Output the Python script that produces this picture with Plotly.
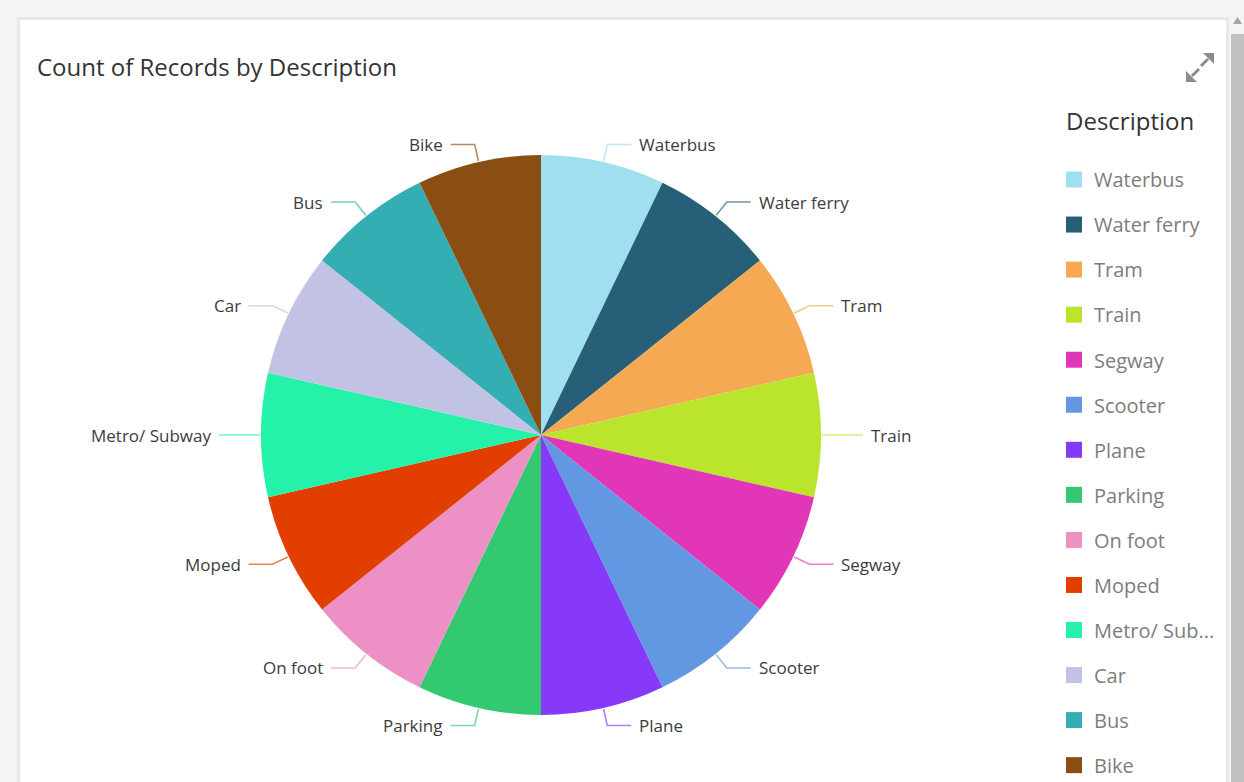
import math
import plotly.graph_objects as go

# ---------------- data ----------------
labels = ["Waterbus", "Water ferry", "Tram", "Train", "Segway", "Scooter", "Plane",
          "Parking", "On foot", "Moped", "Metro/ Subway", "Car", "Bus", "Bike"]
values = [1, 1, 1, 1, 1, 1, 1, 1, 1, 1, 1, 1, 1, 1]
colors = ["#a0dff0", "#285f78", "#f5a952", "#bbe42d", "#e236b9", "#6298e2", "#8639f9",
          "#32c971", "#ed90c6", "#e13e00", "#25f2a9", "#c1c2e4", "#33aeb2", "#8a4e12"]
legend_title = "Description"
chart_title = "Count of Records by Description"

# ---------------- layout constants ----------------
W, H = 1244, 782
CX, CY, R = 541, 435, 280
FONT = "Segoe UI, Open Sans, sans-serif"


def px(x, y):
    return x / W, 1 - y / H


fig = go.Figure()

fig.add_trace(go.Pie(
    labels=labels, values=values, sort=False, direction="clockwise", rotation=0,
    marker=dict(colors=colors, line=dict(width=0)),
    textinfo="none", showlegend=False,
    domain=dict(x=[(CX - R) / W, (CX + R) / W], y=[1 - (CY + R) / H, 1 - (CY - R) / H]),
))

# legend entries (one group per label so the gap can be controlled)
for lbl, col in zip(labels, colors):
    name = lbl if len(lbl) <= 11 else lbl[:10] + "..."
    fig.add_trace(go.Scatter(
        x=[None], y=[None], mode="markers", name=name, legendgroup=lbl,
        marker=dict(symbol="square", size=16, color=col),
    ))

shapes = []
annotations = []

# card background
shapes.append(dict(type="rect", xref="paper", yref="paper", x0=17 / W, x1=1229 / W,
                   y0=-0.01, y1=1 - 17 / H, fillcolor="#e8e8e8", line=dict(width=0), layer="below"))
shapes.append(dict(type="rect", xref="paper", yref="paper", x0=20 / W, x1=1226 / W,
                   y0=-0.01, y1=1 - 20 / H, fillcolor="#ffffff", line=dict(width=0), layer="below"))
# scrollbar
shapes.append(dict(type="rect", xref="paper", yref="paper", x0=1231 / W, x1=1.01,
                   y0=-0.01, y1=1 - 34 / H, fillcolor="#c1c1c1", line=dict(width=0), layer="below"))
ax0, ay0 = px(1233, 24)
ax1, ay1 = px(1242, 24)
ax2, ay2 = px(1237.5, 17)
shapes.append(dict(type="path", xref="paper", yref="paper",
                   path=f"M{ax0},{ay0} L{ax1},{ay1} L{ax2},{ay2} Z",
                   fillcolor="#a3a3a3", line=dict(width=0)))

# expand icon
def tri(p1, p2, p3):
    a, b, c = px(*p1), px(*p2), px(*p3)
    return f"M{a[0]},{a[1]} L{b[0]},{b[1]} L{c[0]},{c[1]} Z"

shapes.append(dict(type="path", xref="paper", yref="paper",
                   path=tri((1214, 53), (1214, 64), (1203, 53)), fillcolor="#8c8c8c", line=dict(width=0)))
shapes.append(dict(type="path", xref="paper", yref="paper",
                   path=tri((1186, 82), (1186, 71), (1197, 82)), fillcolor="#8c8c8c", line=dict(width=0)))
l0, l1 = px(1208, 59), px(1201, 66)
shapes.append(dict(type="line", xref="paper", yref="paper", x0=l0[0], y0=l0[1], x1=l1[0], y1=l1[1],
                   line=dict(color="#8c8c8c", width=3)))
l0, l1 = px(1192, 76), px(1199, 69)
shapes.append(dict(type="line", xref="paper", yref="paper", x0=l0[0], y0=l0[1], x1=l1[0], y1=l1[1],
                   line=dict(color="#8c8c8c", width=3)))

# leader lines and outside labels, derived from the slice angles
total = sum(values)
cum = 0.0
for lbl, val, col in zip(labels, values, colors):
    mid = 2 * math.pi * (cum + val / 2) / total
    cum += val
    s, c = math.sin(mid), math.cos(mid)
    x0p, y0p = CX + 281 * s, CY - 281 * c
    exp_, eyp = CX + 298 * s, CY - 298 * c
    right = s >= 0
    hx = exp_ + (24 if right else -24)
    p0, p1, p2 = px(x0p, y0p), px(exp_, eyp), px(hx, eyp)
    shapes.append(dict(type="path", xref="paper", yref="paper",
                       path=f"M{p0[0]},{p0[1]} L{p1[0]},{p1[1]} L{p2[0]},{p2[1]}",
                       line=dict(color=col, width=1.6), opacity=0.65))
    tx = hx + (6 if right else -6)
    t = px(tx, eyp)
    annotations.append(dict(x=t[0], y=t[1], xref="paper", yref="paper", text=lbl,
                            showarrow=False, xanchor="left" if right else "right", yanchor="middle",
                            font=dict(family=FONT, size=17, color="#3c3c3c")))

# titles
t = px(35, 67)
annotations.append(dict(x=t[0], y=t[1], xref="paper", yref="paper", text=chart_title,
                        showarrow=False, xanchor="left", yanchor="middle",
                        font=dict(family=FONT, size=24, color="#333333")))
t = px(1064, 121)
annotations.append(dict(x=t[0], y=t[1], xref="paper", yref="paper", text=legend_title,
                        showarrow=False, xanchor="left", yanchor="middle",
                        font=dict(family=FONT, size=24, color="#333333")))

lx, ly = px(1054, 160)
fig.update_layout(
    width=W, height=H,
    margin=dict(l=0, r=0, t=0, b=0, autoexpand=False),
    paper_bgcolor="#f4f4f4", plot_bgcolor="rgba(0,0,0,0)",
    xaxis=dict(visible=False), yaxis=dict(visible=False),
    shapes=shapes, annotations=annotations,
    showlegend=True,
    legend=dict(x=lx, y=ly, xanchor="left", yanchor="top", tracegroupgap=16.05,
                bgcolor="rgba(0,0,0,0)", font=dict(family=FONT, size=20, color="#7d7d7d"),
                itemclick=False, itemdoubleclick=False),
)

fig.write_html("out.html", config={"displayModeBar": False},
               post_script="document.body.style.margin='0';")
